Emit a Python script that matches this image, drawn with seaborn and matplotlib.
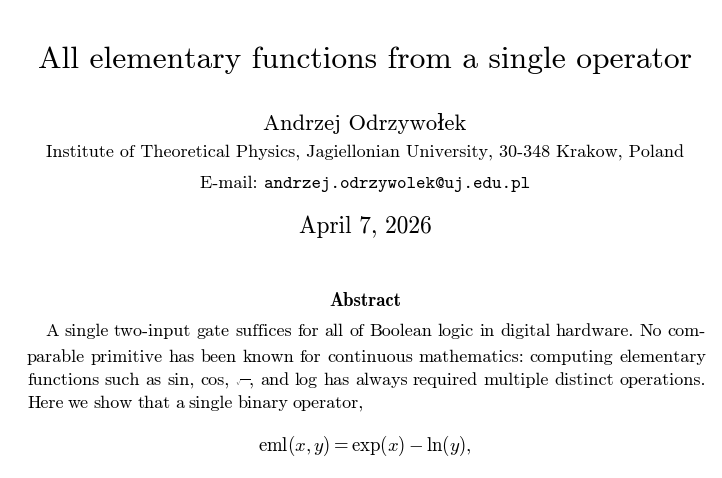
import matplotlib
matplotlib.use("Agg")
import matplotlib.pyplot as plt
import seaborn as sns

sns.set_theme(style="white")
plt.rcParams['font.family'] = ['cmr10', 'DejaVu Serif']
plt.rcParams['mathtext.fontset'] = 'cm'
plt.rcParams['axes.formatter.use_mathtext'] = True

title = "All elementary functions from a single operator"
author = "Andrzej Odrzywołek"
affiliation = "Institute of Theoretical Physics, Jagiellonian University, 30-348 Krakow, Poland"
email_label = "E-mail: "
email_addr = "andrzej.odrzywolek@uj.edu.pl"
date = "April 7, 2026"
abstract_head = "Abstract"
abstract_lines = [
    "A single two-input gate suffices for all of Boolean logic in digital hardware.  No com-",
    "parable primitive has been known for continuous mathematics: computing elementary",
    r"functions such as sin, cos, $\sqrt{\;}$, and log has always required multiple distinct operations.",
    "Here we show that a single binary operator,",
]
equation = r"$\mathrm{eml}(x,y) = \exp(x) - \ln(y),$"

W, H = 722, 478
fig = plt.figure(figsize=(W / 100, H / 100), dpi=100)
fig.patch.set_facecolor("white")
renderer = fig.canvas.get_renderer()


def put(x, y, s, size, **kw):
    return fig.text(x / W, 1 - y / H, s, fontsize=size, va="baseline", color="black", **kw)


def width(a):
    return a.get_window_extent(renderer).width


put(365, 68, title, 22.7, ha="center")
put(365, 130, author, 16.3, ha="center")
put(365, 158, affiliation, 13, ha="center")

# e-mail line: roman label + typewriter address, centred together
lab = put(0, 188, email_label, 13, ha="left")
adr = put(0, 188, email_addr, 13, ha="left", family=['cmtt10', 'DejaVu Sans Mono'])
wl, wa = width(lab), width(adr)
xs = 365 - (wl + wa) / 2
lab.set_x(xs / W)
adr.set_x((xs + wl) / W)

put(365, 233, date, 16.8, ha="center")
put(365, 306, abstract_head, 13.5, ha="center", family=['cmb10', 'DejaVu Serif'])

# justified paragraph: place word by word
left, right = 27, 706
baselines = [336, 362, 385, 408]
for i, (line, yb) in enumerate(zip(abstract_lines, baselines)):
    x0 = 45 if i == 0 else left
    words = line.replace("  ", " ").split(" ")
    arts = [put(x0, yb, w, 13, ha="left") for w in words]
    widths = [width(a) for a in arts]
    last = i == len(abstract_lines) - 1
    if last:
        gap = 4.5
    else:
        gap = (right - x0 - sum(widths)) / (len(words) - 1)
    x = x0
    for a, w in zip(arts, widths):
        a.set_x(x / W)
        x += w + gap

put(365, 451, equation, 13.5, ha="center")

fig.savefig("out.png", dpi=100, facecolor="white")
